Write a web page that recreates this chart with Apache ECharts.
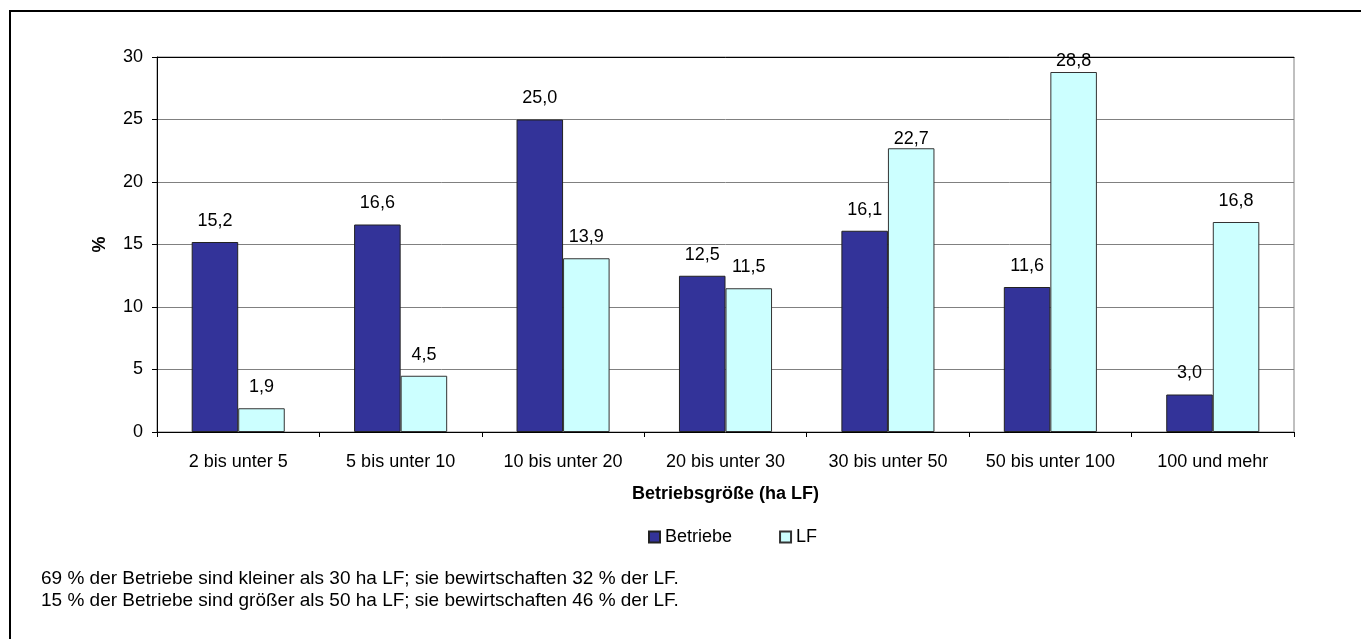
<!DOCTYPE html>
<html>
<head>
<meta charset="utf-8">
<script src="https://cdn.jsdelivr.net/npm/echarts@6/dist/echarts.min.js"></script>
<style>
html,body{margin:0;padding:0;background:#fff;}
#chart{width:1361px;height:639px;}
</style>
</head>
<body>
<div id="chart"></div>
<script>
const categories = ['2 bis unter 5','5 bis unter 10','10 bis unter 20','20 bis unter 30','30 bis unter 50','50 bis unter 100','100 und mehr'];
const betriebe = [15.2, 16.6, 25.0, 12.5, 16.1, 11.6, 3.0];
const lf = [1.9, 4.5, 13.9, 11.5, 22.7, 28.8, 16.8];
const yTicks = [0, 5, 10, 15, 20, 25, 30];
const seriesNames = ['Betriebe', 'LF'];
const footnotes = [
  '69 % der Betriebe sind kleiner als 30 ha LF; sie bewirtschaften 32 % der LF.',
  '15 % der Betriebe sind größer als 50 ha LF; sie bewirtschaften 46 % der LF.'
];
const xTitle = 'Betriebsgröße (ha LF)';
const yTitle = '%';

const FONT = 'Arial, "Liberation Sans", sans-serif';
const FS = 18;
const fmt = v => v.toFixed(1).replace('.', ',');

// label distances (style only): labels near the top of the plot sit closer to their bars
const lfLabelDistance = {4: 0, 5: 2};

const labelCfg = {
  show: true, position: 'top', distance: 12,
  fontFamily: FONT, fontSize: FS, color: '#000',
  formatter: p => fmt(p.value)
};
const lfData = lf.map((v, i) => (i in lfLabelDistance) ? {value: v, label: {distance: lfLabelDistance[i]}} : v);

const chart = echarts.init(document.getElementById('chart'), null, {renderer: 'canvas'});
chart.setOption({
  animation: false,
  backgroundColor: '#fff',
  grid: {left: 157, right: 67, top: 57, bottom: 207, show: true, borderColor: '#808080', borderWidth: 1},
  legend: {
    left: 643, top: 523, itemWidth: 11, itemHeight: 11, itemGap: 47, icon: 'rect',
    textStyle: {fontFamily: FONT, fontSize: FS, color: '#000'},
    data: seriesNames
  },
  xAxis: [{
    type: 'category', data: categories,
    axisLine: {lineStyle: {color: '#000', width: 1}},
    axisTick: {show: true, length: 5, lineStyle: {color: '#000'}},
    axisLabel: {fontFamily: FONT, fontSize: FS, color: '#000', margin: 21, interval: 0},
    name: xTitle, nameLocation: 'middle', nameGap: 53,
    nameTextStyle: {fontFamily: FONT, fontSize: FS, fontWeight: 'bold', color: '#000'}
  }, {
    type: 'category', data: categories, position: 'top',
    axisLine: {lineStyle: {color: '#000', width: 1}},
    axisTick: {show: false}, axisLabel: {show: false}
  }],
  yAxis: {
    type: 'value', min: yTicks[0], max: yTicks[yTicks.length - 1], interval: 5,
    axisLine: {show: true, lineStyle: {color: '#000', width: 1}},
    axisTick: {show: true, length: 5, lineStyle: {color: '#000'}},
    axisLabel: {fontFamily: FONT, fontSize: FS, color: '#000', margin: 14},
    splitLine: {show: true, lineStyle: {color: '#808080', width: 1}},
    name: yTitle, nameLocation: 'middle', nameGap: 48, nameRotate: 90,
    nameTextStyle: {fontFamily: FONT, fontSize: FS, fontWeight: 'bold', color: '#000'}
  },
  series: [{
    name: seriesNames[0], type: 'bar', data: betriebe, barGap: '0%', barCategoryGap: '42.7%',
    itemStyle: {color: '#333399', borderColor: '#222', borderWidth: 1},
    label: labelCfg
  }, {
    name: seriesNames[1], type: 'bar', data: lfData,
    itemStyle: {color: '#CCFFFF', borderColor: '#333', borderWidth: 1},
    label: labelCfg
  }],
  graphic: [
    {type: 'line', shape: {x1: 9, y1: 11, x2: 1361, y2: 11}, style: {stroke: '#000', lineWidth: 2}},
    {type: 'line', shape: {x1: 10, y1: 10, x2: 10, y2: 639}, style: {stroke: '#000', lineWidth: 2}},
    {type: 'text', x: 41, y: 579, style: {text: footnotes[0], font: '19px ' + FONT, fill: '#000', textVerticalAlign: 'middle', verticalAlign: 'middle'}},
    {type: 'text', x: 41, y: 601, style: {text: footnotes[1], font: '19px ' + FONT, fill: '#000', textVerticalAlign: 'middle', verticalAlign: 'middle'}}
  ]
});
</script>
</body>
</html>
